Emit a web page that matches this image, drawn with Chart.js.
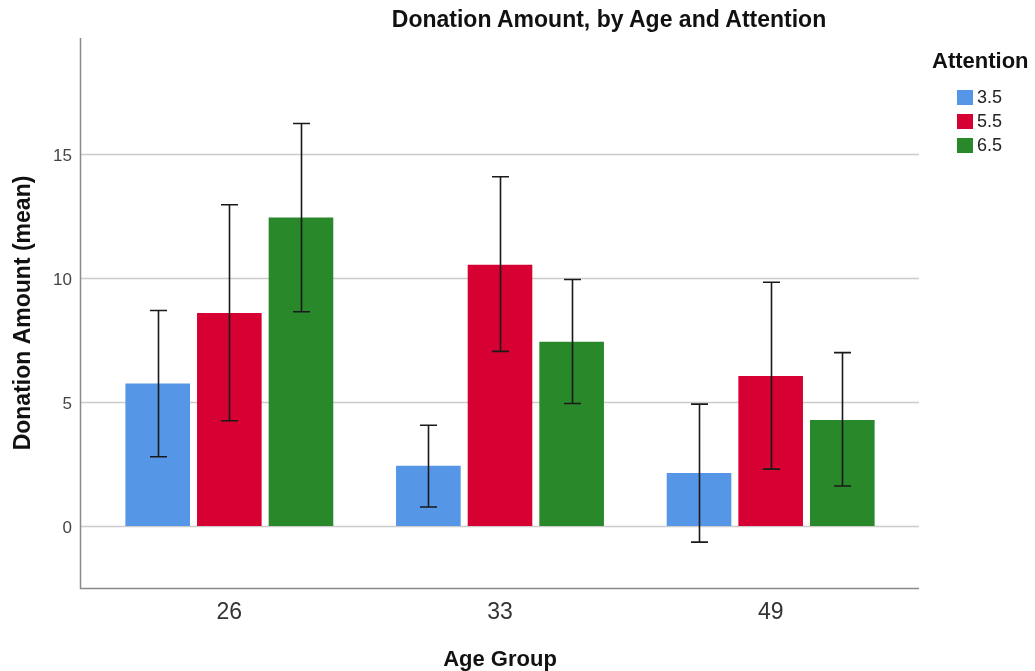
<!DOCTYPE html>
<html>
<head>
<meta charset="utf-8">
<script src="https://cdn.jsdelivr.net/npm/chart.js@4/dist/chart.umd.min.js"></script>
<style>
  html, body { margin: 0; padding: 0; background: #fff; }
  #wrap { position: relative; width: 1035px; height: 671px; font-family: "Liberation Sans", Arial, sans-serif; }
  #title { position: absolute; left: 609px; top: 6px; transform: translateX(-50%); white-space: nowrap;
           font-weight: bold; font-size: 23px; color: #111; }
  #legend { position: absolute; left: 932px; top: 48px; color: #222; }
  #legend .lt { font-weight: bold; font-size: 22px; color: #111; margin-bottom: 11px; }
  #legend .it { display: flex; align-items: center; height: 24px; font-size: 18px; padding-left: 25px; }
  #legend .sw { width: 16px; height: 15px; margin-right: 4px; }
</style>
</head>
<body>
<div id="wrap">
  <canvas id="c" width="1035" height="671"></canvas>
  <div id="title">Donation Amount, by Age and Attention</div>
  <div id="legend"></div>
</div>
<script>
// ---- data ----
const categories = ["26", "33", "49"];
const seriesNames = ["3.5", "5.5", "6.5"];
const seriesColors = ["#5596E6", "#D60032", "#29882A"];
const means_35 = [5.75, 2.43, 2.14];
const means_55 = [8.60, 10.55, 6.06];
const means_65 = [12.45, 7.44, 4.28];
const lower_35 = [2.80, 0.77, -0.65];
const upper_35 = [8.70, 4.07, 4.92];
const lower_55 = [4.25, 7.05, 2.30];
const upper_55 = [12.97, 14.10, 9.84];
const lower_65 = [8.65, 4.95, 1.62];
const upper_65 = [16.25, 9.95, 7.00];
const yTicks = [0, 5, 10, 15];

const means = [means_35, means_55, means_65];
const lowers = [lower_35, lower_55, lower_65];
const uppers = [upper_35, upper_55, upper_65];

// legend
const lg = document.getElementById('legend');
lg.innerHTML = '<div class="lt">Attention</div>' + seriesNames.map((n, i) =>
  '<div class="it"><div class="sw" style="background:' + seriesColors[i] + '"></div>' + n + '</div>').join('');

const FONT = '"Liberation Sans", Arial, sans-serif';

const framePlugin = {
  id: 'frame',
  beforeDatasetsDraw(chart) {
    const ctx = chart.ctx, ca = chart.chartArea, y = chart.scales.y;
    const L = ca.left - 14, R = ca.right + 13;
    ctx.save();
    ctx.strokeStyle = '#cccccc';
    ctx.lineWidth = 1.5;
    yTicks.forEach(v => {
      const py = Math.round(y.getPixelForValue(v)) + 0.5;
      ctx.beginPath(); ctx.moveTo(L, py); ctx.lineTo(R, py); ctx.stroke();
    });
    ctx.strokeStyle = '#8a8a8a';
    ctx.lineWidth = 1.5;
    ctx.beginPath();
    ctx.moveTo(L + 0.5, ca.top);
    ctx.lineTo(L + 0.5, ca.bottom + 0.5);
    ctx.lineTo(R, ca.bottom + 0.5);
    ctx.stroke();
    ctx.restore();
  },
  afterDatasetsDraw(chart) {
    const ctx = chart.ctx, y = chart.scales.y;
    ctx.save();
    ctx.strokeStyle = '#1a1a1a';
    ctx.lineWidth = 1.6;
    chart.data.datasets.forEach((ds, i) => {
      const meta = chart.getDatasetMeta(i);
      meta.data.forEach((bar, j) => {
        const x = Math.round(bar.x) + 0.5;
        const y1 = y.getPixelForValue(lowers[i][j]);
        const y2 = y.getPixelForValue(uppers[i][j]);
        ctx.beginPath();
        ctx.moveTo(x, y1); ctx.lineTo(x, y2);
        ctx.moveTo(x - 8.5, y1); ctx.lineTo(x + 8.5, y1);
        ctx.moveTo(x - 8.5, y2); ctx.lineTo(x + 8.5, y2);
        ctx.stroke();
      });
    });
    ctx.restore();
  }
};

new Chart(document.getElementById('c'), {
  type: 'bar',
  data: {
    labels: categories,
    datasets: seriesNames.map((n, i) => ({
      label: n,
      data: means[i],
      backgroundColor: seriesColors[i],
      borderWidth: 0,
      categoryPercentage: 0.794,
      barPercentage: 0.902
    }))
  },
  options: {
    responsive: false,
    animation: false,
    layout: { padding: { left: 0, right: 129, top: 38, bottom: 0 } },
    plugins: { legend: { display: false }, tooltip: { enabled: false }, title: { display: false } },
    scales: {
      x: {
        grid: { display: false },
        border: { display: false },
        ticks: { color: '#333', font: { family: FONT, size: 23 }, padding: 3 },
        title: { display: true, text: 'Age Group', color: '#111', font: { family: FONT, size: 22, weight: 'bold', lineHeight: 1 }, padding: 0 },
        afterFit(s) { s.height = 83; }
      },
      y: {
        min: -2.5, max: 19.7,
        grid: { display: false },
        border: { display: false },
        afterBuildTicks(s) { s.ticks = yTicks.map(v => ({ value: v })); },
        ticks: { color: '#444', font: { family: FONT, size: 17 }, padding: 14, labelOffset: 2 },
        title: { display: true, text: 'Donation Amount (mean)', color: '#111', font: { family: FONT, size: 23, weight: 'bold', lineHeight: 1 }, padding: { top: 12, bottom: 0 } },
        afterFit(s) { s.width = 94; }
      }
    }
  },
  plugins: [framePlugin]
});
</script>
</body>
</html>
